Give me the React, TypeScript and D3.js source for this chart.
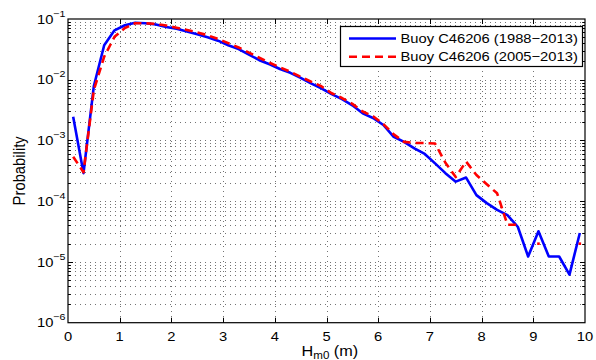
import { useEffect, useRef } from 'react';
import * as d3 from 'd3';

// bin centres, H_m0 (m)
const hm0 = [
  0.1, 0.3, 0.5, 0.7, 0.9, 1.1, 1.3, 1.5, 1.7, 1.9,
  2.1, 2.3, 2.5, 2.7, 2.9, 3.1, 3.3, 3.5, 3.7, 3.9,
  4.1, 4.3, 4.5, 4.7, 4.9, 5.1, 5.3, 5.5, 5.7, 5.9,
  6.1, 6.3, 6.5, 6.7, 6.9, 7.1, 7.3, 7.5, 7.7, 7.9,
  8.1, 8.3, 8.5, 8.7, 8.9, 9.1, 9.3, 9.5, 9.7, 9.9,
];

// Buoy C46206 (1988-2013)
const probLong: (number | null)[] = [
  2.45e-3, 2.9e-4, 7.9e-3, 3.7e-2, 6.5e-2, 7.9e-2, 8.7e-2, 8.5e-2, 8.1e-2, 7.4e-2,
  6.9e-2, 6.2e-2, 5.6e-2, 5.0e-2, 4.4e-2, 3.7e-2, 3.2e-2, 2.6e-2, 2.1e-2, 1.8e-2,
  1.5e-2, 1.3e-2, 1.07e-2, 8.7e-3, 7.2e-3, 5.8e-3, 4.8e-3, 3.8e-3, 2.8e-3, 2.35e-3,
  1.8e-3, 1.15e-3, 9.5e-4, 7.4e-4, 6.0e-4, 4.2e-4, 2.9e-4, 2.1e-4, 2.45e-4, 1.26e-4,
  9.3e-5, 7.2e-5, 5.9e-5, 3.8e-5, 1.23e-5, 3.2e-5, 1.23e-5, 1.23e-5, 6.2e-6, 3.0e-5,
];

// Buoy C46206 (2005-2013)
const probShort: (number | null)[] = [
  5.4e-4, 3.0e-4, 6.8e-3, 2.4e-2, 5.1e-2, 7.1e-2, 8.5e-2, 8.5e-2, 8.3e-2, 7.8e-2,
  7.2e-2, 6.6e-2, 6.0e-2, 5.4e-2, 4.7e-2, 4.0e-2, 3.4e-2, 2.8e-2, 2.3e-2, 1.9e-2,
  1.6e-2, 1.35e-2, 1.12e-2, 9.3e-3, 7.8e-3, 6.0e-3, 5.0e-3, 4.0e-3, 3.0e-3, 2.5e-3,
  1.86e-3, 1.26e-3, 9.5e-4, 9.1e-4, 9.1e-4, 8.9e-4, 4.3e-4, 2.5e-4, 4.5e-4, 2.7e-4,
  1.9e-4, 1.35e-4, 4.1e-5, 4.1e-5, null, 2.0e-5, null, null, null, 2.0e-5,
];

const seriesNames = ['Buoy C46206 (1988\u22122013)', 'Buoy C46206 (2005\u22122013)'];
const seriesColors = ['#0000ff', '#ff0000'];
const xTicks = [0, 1, 2, 3, 4, 5, 6, 7, 8, 9, 10];
const yExponents = [-6, -5, -4, -3, -2, -1];
const minorSteps = [2, 3, 4, 5, 6, 7, 8, 9];

const FONT = '"Liberation Sans", Arial, Helvetica, sans-serif';
const FS = 12.7;     // tick / legend text
const FS_LABEL = 14.8; // axis titles
const SX = 1.16;     // the reference text is a little stretched sideways

export default function App() {
  const svgRef = useRef<SVGSVGElement | null>(null);

  useEffect(() => {
    if (!svgRef.current) return;
    const svg = d3.select(svgRef.current);
    svg.selectAll('*').remove();

    const left = 68, right = 585, top = 19, bottom = 322.7;

    const x = d3.scaleLinear().domain([0, 10]).range([left, right]);
    const y = d3.scaleLog().domain([1e-6, 1e-1]).range([bottom, top]);

    svg.append('rect').attr('width', 596).attr('height', 360).attr('fill', '#fff');

    // grid
    const grid = svg.append('g')
      .attr('stroke', '#444')
      .attr('stroke-width', 0.75)
      .attr('stroke-dasharray', '1 4')
      .attr('fill', 'none');

    const yGridVals: number[] = [];
    yExponents.forEach(e => {
      if (e < -1) minorSteps.forEach(k => yGridVals.push(k * Math.pow(10, e)));
      yGridVals.push(Math.pow(10, e));
    });

    grid.selectAll('line.hg')
      .data(yGridVals.filter(v => v > 1e-6 && v < 1e-1))
      .join('line')
      .attr('class', 'hg')
      .attr('x1', left + 2).attr('x2', right)
      .attr('y1', d => Math.round(y(d)) + 0.5)
      .attr('y2', d => Math.round(y(d)) + 0.5);

    grid.selectAll('line.vg')
      .data(xTicks.slice(1, -1))
      .join('line')
      .attr('class', 'vg')
      .attr('x1', d => Math.round(x(d)) + 0.5)
      .attr('x2', d => Math.round(x(d)) + 0.5)
      .attr('y1', top + 2).attr('y2', bottom);

    // series lines
    const series = [probLong, probShort];
    series.forEach((vals, si) => {
      const pts = hm0.map((h, i) => ({ h, p: vals[i] }));
      const line = d3.line<{ h: number; p: number | null }>()
        .defined(d => d.p != null && d.p > 0)
        .x(d => x(d.h))
        .y(d => y(d.p as number));

      svg.append('path')
        .attr('d', line(pts) || '')
        .attr('fill', 'none')
        .attr('stroke', seriesColors[si])
        .attr('stroke-width', 2.6)
        .attr('stroke-linejoin', 'round')
        .attr('stroke-dasharray', si === 1 ? '8 5' : null);

      // lone points (neighbours missing) still leave a small mark
      const lone = pts.filter((d, i) =>
        d.p != null &&
        (i === 0 || pts[i - 1].p == null) &&
        (i === pts.length - 1 || pts[i + 1].p == null));
      svg.selectAll(`rect.lone${si}`)
        .data(lone)
        .join('rect')
        .attr('class', `lone${si}`)
        .attr('x', d => x(d.h) - 1.3)
        .attr('y', d => y(d.p as number) - 1.3)
        .attr('width', 2.6)
        .attr('height', 2.6)
        .attr('fill', seriesColors[si]);
    });

    // box
    svg.append('rect')
      .attr('x', left).attr('y', top)
      .attr('width', right - left).attr('height', bottom - top)
      .attr('fill', 'none').attr('stroke', '#000').attr('stroke-width', 1.2);

    // ticks
    const ticks = svg.append('g').attr('stroke', '#000').attr('stroke-width', 1);
    xTicks.slice(1, -1).forEach(t => {
      const px = Math.round(x(t)) + 0.5;
      ticks.append('line').attr('x1', px).attr('x2', px).attr('y1', bottom).attr('y2', bottom - 5);
      ticks.append('line').attr('x1', px).attr('x2', px).attr('y1', top).attr('y2', top + 5);
    });
    yGridVals.forEach(v => {
      if (v <= 1e-6 || v >= 1e-1) return;
      const major = Math.abs(Math.log10(v) - Math.round(Math.log10(v))) < 1e-9;
      const len = major ? 5 : 2.8;
      const py = Math.round(y(v)) + 0.5;
      ticks.append('line').attr('x1', left).attr('x2', left + len).attr('y1', py).attr('y2', py);
      ticks.append('line').attr('x1', right).attr('x2', right - len).attr('y1', py).attr('y2', py);
    });

    const textAt = (px: number, py: number, size: number, rot = 0) =>
      svg.append('text')
        .attr('transform', `translate(${px},${py}) scale(${SX},1)${rot ? ` rotate(${rot})` : ''}`)
        .attr('font-family', FONT)
        .attr('font-size', size)
        .attr('fill', '#000');

    // y tick labels: 10^e
    yExponents.forEach(e => {
      const t = textAt(65.5, y(Math.pow(10, e)) + 4.6, FS).attr('text-anchor', 'end');
      t.append('tspan').text('10');
      t.append('tspan').attr('dy', -7).attr('font-size', 9.2).text(`\u2212${Math.abs(e)}`);
    });

    // x tick labels
    xTicks.forEach(t => {
      textAt(x(t), 341, FS).attr('text-anchor', 'middle').text(String(t));
    });

    // axis titles
    const xl = textAt(301.5, 355.5, 14).attr('text-anchor', 'start');
    xl.append('tspan').text('H');
    xl.append('tspan').attr('dy', 3.8).attr('font-size', 10).text('m0');
    xl.append('tspan').attr('dy', -3.8).text(' (m)');

    textAt(25, (top + bottom) / 2, FS_LABEL, -90).attr('text-anchor', 'middle').text('Probability');

    // legend
    const lg = svg.append('g');
    lg.append('rect')
      .attr('x', 340.5).attr('y', 26.5)
      .attr('width', 242).attr('height', 40)
      .attr('fill', '#fff').attr('stroke', '#000').attr('stroke-width', 1.2);
    seriesNames.forEach((name, i) => {
      const ly = 38.5 + i * 18.3;
      lg.append('line')
        .attr('x1', 349).attr('x2', 396).attr('y1', ly).attr('y2', ly)
        .attr('stroke', seriesColors[i]).attr('stroke-width', 2.6)
        .attr('stroke-dasharray', i === 1 ? '8 5' : null);
      textAt(400.5, ly + 4.6, FS).text(name);
    });
  }, []);

  return (
    <div style={{ position: 'absolute', left: 0, top: 0 }}>
      <svg ref={svgRef} width={596} height={360} style={{ display: 'block' }} />
    </div>
  );
}
